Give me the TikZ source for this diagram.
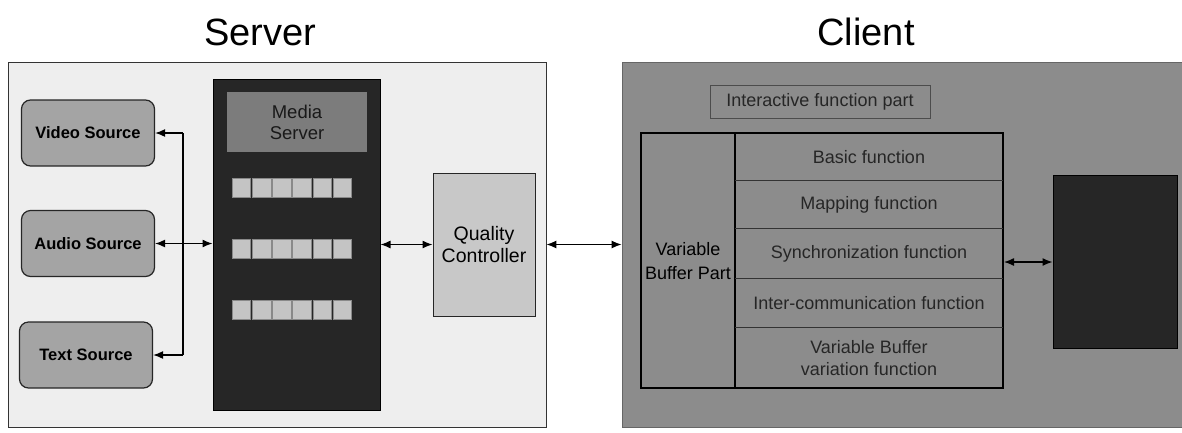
\documentclass[tikz,border=0pt]{standalone}
\usepackage{fontspec}
\setmainfont{Liberation Sans}
\usetikzlibrary{arrows.meta}
\definecolor{srvbg}{HTML}{EEEEEE}
\definecolor{srcfill}{HTML}{A4A4A4}
\definecolor{msfill}{HTML}{262626}
\definecolor{hdrfill}{HTML}{7C7C7C}
\definecolor{sqfill}{HTML}{C4C4C4}
\definecolor{qcfill}{HTML}{C8C8C8}
\definecolor{clibg}{HTML}{8C8C8C}
\definecolor{darkfill}{HTML}{262626}
\tikzset{
  srcbox/.style={draw=black!85, line width=1.2pt, fill=srcfill, rounded corners=9pt,
    minimum width=133pt, minimum height=66pt, inner sep=0pt,
    font=\fontsize{16.5}{18}\selectfont\bfseries},
  conn/.style={line width=1.3pt, black},
  arr/.style={conn, -{Latex[length=10pt,width=8pt]}},
  darr/.style={conn, {Latex[length=10pt,width=8pt]}-{Latex[length=10pt,width=8pt]}},
  rowtxt/.style={font=\fontsize{18}{21}\selectfont, text=black!85, inner sep=0pt, align=center},
  sq/.style={fill=sqfill, draw=sqfill!70!black, line width=0.4pt},
}
\begin{document}
\begin{tikzpicture}[x=1pt,y=-1pt]
\useasboundingbox (0,0) rectangle (1182,432);
% titles
\node[font=\fontsize{38}{40}\selectfont, anchor=base] (tserver) at (260,45) {Server};
\node[font=\fontsize{38}{40}\selectfont, anchor=base] (tclient) at (866,45) {Client};
% server frame
\node[draw=black!80, line width=0.8pt, fill=srvbg, minimum width=538pt, minimum height=365pt, inner sep=0pt] (server) at (277,244.5) {};
% client frame
\node[draw=black!60, line width=0.8pt, fill=clibg, minimum width=560pt, minimum height=365pt, inner sep=0pt] (client) at (902,244.5) {};
% sources
\node[srcbox] (video) at (88,133) {Video Source};
\node[srcbox] (audio) at (88,243.5) {Audio Source};
\node[srcbox] (text) at (86,355) {Text Source};
% media server
\node[fill=msfill, draw=black, line width=1pt, minimum width=167pt, minimum height=331pt, inner sep=0pt] (media) at (296.5,244.5) {};
\node[fill=hdrfill, minimum width=140pt, minimum height=60pt, inner sep=0pt, align=center,
  font=\fontsize{18.5}{21}\selectfont, text=black!90] (hdr) at (297,122) {Media\\Server};
\foreach \r in {187.5,249,309.5}{
  \foreach \i in {0,...,5}{
    \filldraw[sq] ({232+\i*20.2},{\r-9.5}) rectangle ({250.5+\i*20.2},{\r+9.5});
  }
}
% quality controller
\node[fill=qcfill, draw=black!85, line width=1pt, minimum width=102pt, minimum height=143pt, inner sep=0pt, align=center,
  font=\fontsize{19.5}{22}\selectfont] (qc) at (484,244.5) {Quality\\Controller};
% connectors server side
\coordinate (vtop) at (183,133);
\coordinate (vbot) at (183,355);
\draw[conn] (vtop) -- (vbot);
\draw[arr] (vtop) -- (video.east);
\draw[arr] (vbot) -- (text.east);
\draw[darr] (audio.east) -- (media.west |- audio.east);
\draw[darr] (media.east) -- (qc.west);
\draw[darr] (server.east) -- (client.west);
% client content
\node[draw=black!70, line width=0.8pt, minimum width=220pt, minimum height=33pt, inner sep=0pt, rowtxt] (inter) at (820,101.5) {Interactive function part};
\node[draw=black, line width=2pt, minimum width=362pt, minimum height=255pt, inner sep=0pt] (inner) at (822,260.5) {};
\node[rowtxt, minimum width=94pt, minimum height=255pt, align=center, font=\fontsize{18}{24}\selectfont, text=black] (vbp) at (688,261) {Variable\\Buffer Part};
\draw[line width=2pt] (735,133) -- (735,388);
\draw[line width=0.8pt, black!80] (735,180) -- (1003,180);
\draw[line width=0.8pt, black!80] (735,228) -- (1003,228);
\draw[line width=0.8pt, black!80] (735,278) -- (1003,278);
\draw[line width=0.8pt, black!80] (735,327) -- (1003,327);
\node[rowtxt] (r1) at (869,157) {Basic function};
\node[rowtxt] (r2) at (869,205) {Mapping function};
\node[rowtxt] (r3) at (869,254) {Synchronization function};
\node[rowtxt] (r4) at (869,303) {Inter-communication function};
\node[rowtxt, font=\fontsize{18}{22}\selectfont] (r5) at (869,358) {Variable Buffer\\variation function};
% dark box
\node[fill=darkfill, draw=black, line width=1pt, minimum width=124pt, minimum height=173pt, inner sep=0pt] (dark) at (1115,261.5) {};
\draw[darr] (inner.east |- 0,262) -- (dark.west |- 0,262);
\end{tikzpicture}
\end{document}
